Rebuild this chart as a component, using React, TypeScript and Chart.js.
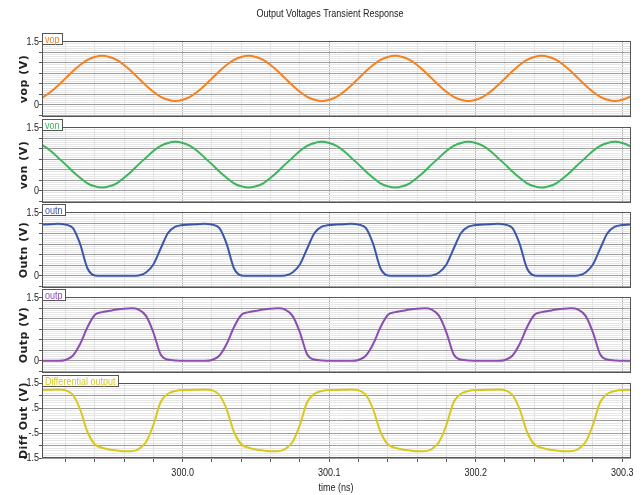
import React, { useEffect, useRef } from "react";
import { Chart, registerables } from "chart.js";
Chart.register(...registerables);

// ---------- data ----------
const TITLE = "Output Voltages Transient Response";
const X_TITLE = "time (ns)";
const TIME_START = 299.9;
const TIME_STEP = 0.005;
const X_MIN = 299.904;
const X_MAX = 300.306;
const X_MINOR_STEP = 0.02;
const X_LABEL_VALUES = [300.0, 300.1, 300.2, 300.3];
const X_LABELS = ["300.0", "300.1", "300.2", "300.3"];

const VOP = [
  0.12, 0.19, 0.31, 0.46, 0.63, 0.8, 0.95, 1.07, 1.14, 1.17, 1.14, 1.07, 0.95, 0.8, 0.63, 0.46, 0.31, 0.19, 0.12, 0.09,
  0.12, 0.19, 0.31, 0.46, 0.63, 0.8, 0.95, 1.07, 1.14, 1.17, 1.14, 1.07, 0.95, 0.8, 0.63, 0.46, 0.31, 0.19, 0.12, 0.09,
  0.12, 0.19, 0.31, 0.46, 0.63, 0.8, 0.95, 1.07, 1.14, 1.17, 1.14, 1.07, 0.95, 0.8, 0.63, 0.46, 0.31, 0.19, 0.12, 0.09,
  0.12, 0.19, 0.31, 0.46, 0.63, 0.8, 0.95, 1.07, 1.14, 1.17, 1.14, 1.07, 0.95, 0.8, 0.63, 0.46, 0.31, 0.19, 0.12, 0.09,
  0.12, 0.19, 0.31,
];
const VON = [
  1.14, 1.07, 0.95, 0.79, 0.63, 0.46, 0.31, 0.18, 0.11, 0.08, 0.11, 0.18, 0.31, 0.46, 0.63, 0.79, 0.95, 1.07, 1.14, 1.17,
  1.14, 1.07, 0.95, 0.79, 0.63, 0.46, 0.31, 0.18, 0.11, 0.08, 0.11, 0.18, 0.31, 0.46, 0.63, 0.79, 0.95, 1.07, 1.14, 1.17,
  1.14, 1.07, 0.95, 0.79, 0.63, 0.46, 0.31, 0.18, 0.11, 0.08, 0.11, 0.18, 0.31, 0.46, 0.63, 0.79, 0.95, 1.07, 1.14, 1.17,
  1.14, 1.07, 0.95, 0.79, 0.63, 0.46, 0.31, 0.18, 0.11, 0.08, 0.11, 0.18, 0.31, 0.46, 0.63, 0.79, 0.95, 1.07, 1.14, 1.17,
  1.14, 1.07, 0.95,
];
const OUTN = [
  1.21, 1.22, 1.23, 1.24, 1.22, 1.14, 0.76, 0.18, 0.01, 0.0, 0.0, 0.0, 0.0, 0.0, 0.01, 0.08, 0.27, 0.65, 1.02, 1.17,
  1.21, 1.22, 1.23, 1.24, 1.22, 1.14, 0.76, 0.18, 0.01, 0.0, 0.0, 0.0, 0.0, 0.0, 0.01, 0.08, 0.27, 0.65, 1.02, 1.17,
  1.21, 1.22, 1.23, 1.24, 1.22, 1.14, 0.76, 0.18, 0.01, 0.0, 0.0, 0.0, 0.0, 0.0, 0.01, 0.08, 0.27, 0.65, 1.02, 1.17,
  1.21, 1.22, 1.23, 1.24, 1.22, 1.14, 0.76, 0.18, 0.01, 0.0, 0.0, 0.0, 0.0, 0.0, 0.01, 0.08, 0.27, 0.65, 1.02, 1.17,
  1.21, 1.22, 1.23,
];
const OUTP = [
  0.0, 0.0, 0.0, 0.0, 0.02, 0.12, 0.4, 0.8, 1.09, 1.16, 1.19, 1.22, 1.24, 1.25, 1.22, 1.07, 0.68, 0.15, 0.03, 0.01,
  0.0, 0.0, 0.0, 0.0, 0.02, 0.12, 0.4, 0.8, 1.09, 1.16, 1.19, 1.22, 1.24, 1.25, 1.22, 1.07, 0.68, 0.15, 0.03, 0.01,
  0.0, 0.0, 0.0, 0.0, 0.02, 0.12, 0.4, 0.8, 1.09, 1.16, 1.19, 1.22, 1.24, 1.25, 1.22, 1.07, 0.68, 0.15, 0.03, 0.01,
  0.0, 0.0, 0.0, 0.0, 0.02, 0.12, 0.4, 0.8, 1.09, 1.16, 1.19, 1.22, 1.24, 1.25, 1.22, 1.07, 0.68, 0.15, 0.03, 0.01,
  0.0, 0.0, 0.0,
];
const DIFF = [
  1.22, 1.22, 1.23, 1.24, 1.21, 1.03, 0.45, -0.45, -0.95, -1.09, -1.16, -1.2, -1.23, -1.23, -1.14, -0.86, -0.18, 0.74, 1.07, 1.18,
  1.22, 1.22, 1.23, 1.24, 1.21, 1.03, 0.45, -0.45, -0.95, -1.09, -1.16, -1.2, -1.23, -1.23, -1.14, -0.86, -0.18, 0.74, 1.07, 1.18,
  1.22, 1.22, 1.23, 1.24, 1.21, 1.03, 0.45, -0.45, -0.95, -1.09, -1.16, -1.2, -1.23, -1.23, -1.14, -0.86, -0.18, 0.74, 1.07, 1.18,
  1.22, 1.22, 1.23, 1.24, 1.21, 1.03, 0.45, -0.45, -0.95, -1.09, -1.16, -1.2, -1.23, -1.23, -1.14, -0.86, -0.18, 0.74, 1.07, 1.18,
  1.22, 1.22, 1.23,
];

const SERIES = [VOP, VON, OUTN, OUTP, DIFF];
const SERIES_NAMES = ["vop", "von", "outn", "outp", "Differential output"];
const Y_TITLES = ["vop (V)", "von (V)", "Outn (V)", "Outp (V)", "Diff Out (V)"];
const SERIES_COLORS = ["#f5821f", "#3bb55c", "#3c56a8", "#8b4db0", "#d8c81e"];

const Y_TICK_VALUES_V = [0, 1.5];
const Y_TICK_LABELS_V = ["0", "1.5"];
const Y_TICK_VALUES_DIFF = [-1.5, -0.5, 0.5, 1.5];
const Y_TICK_LABELS_DIFF = ["-1.5", "-.5", ".5", "1.5"];

// ---------- layout / style ----------
const W = 643;
const H = 495;
const PANEL_TOPS = [41, 127, 212, 297, 383];
const PANEL_BOTTOMS = [117, 203, 288, 373, 458];
const PLOT_LEFT = 42;
const PLOT_RIGHT = 631;
const TEXT_FONT = "11px 'Liberation Sans', Arial, sans-serif";
const NARROW_SCALE = 0.82;
const BOLD_FONT = "bold 11px 'DejaVu Sans', Verdana, sans-serif";
const FRAME = "#555555";
const TEXT = "#222222";

const near = (a: number, b: number) => Math.abs(a - b) < 1e-6;
const isMultiple = (v: number, step: number) => near(v / step, Math.round(v / step));

function makeTicks(min: number, max: number, step: number) {
  const out: { value: number }[] = [];
  const n0 = Math.ceil(min / step - 1e-9);
  const n1 = Math.floor(max / step + 1e-9);
  for (let n = n0; n <= n1; n++) out.push({ value: parseFloat((n * step).toFixed(6)) });
  return out;
}

function narrowText(
  ctx: CanvasRenderingContext2D,
  text: string,
  x: number,
  y: number,
  align: CanvasTextAlign,
  color: string
) {
  ctx.save();
  ctx.font = TEXT_FONT;
  ctx.fillStyle = color;
  ctx.textAlign = align;
  ctx.textBaseline = "middle";
  ctx.translate(x, y);
  ctx.scale(NARROW_SCALE, 1);
  ctx.fillText(text, 0, 0);
  ctx.restore();
}

function Panel({ idx }: { idx: number }) {
  const ref = useRef<HTMLCanvasElement | null>(null);
  const isLast = idx === 4;
  const top = PANEL_TOPS[idx];
  const bottom = PANEL_BOTTOMS[idx];
  const canvasTop = idx === 0 ? 0 : top - 11;
  const padBottom = isLast ? 0 : 8;
  const canvasBottom = isLast ? H : bottom + padBottom;
  const ch = canvasBottom - canvasTop;

  useEffect(() => {
    const yMin = isLast ? -1.5 : -0.29;
    const yMax = isLast ? 1.5 : 1.52;
    const yMajor = isLast ? 0.5 : 0.25;
    const yMinor = isLast ? 0.1 : 0.05;
    const tickVals = isLast ? Y_TICK_VALUES_DIFF : Y_TICK_VALUES_V;
    const tickLabels = isLast ? Y_TICK_LABELS_DIFF : Y_TICK_LABELS_V;
    const series = SERIES[idx];
    const points = series.map((v, i) => ({ x: TIME_START + TIME_STEP * i, y: v }));
    const color = SERIES_COLORS[idx];

    const decor = {
      id: "decor" + idx,
      afterDraw(chart: any) {
        const ctx = chart.ctx as CanvasRenderingContext2D;
        const ca = chart.chartArea;
        const ys = chart.scales.y;
        const xs = chart.scales.x;
        ctx.save();
        // frame
        ctx.strokeStyle = FRAME;
        ctx.lineWidth = 1;
        ctx.strokeRect(ca.left + 0.5, ca.top + 0.5, ca.right - ca.left - 1, ca.bottom - ca.top - 1);
        // y tick labels
        tickVals.forEach((v, k) => {
          narrowText(ctx, tickLabels[k], PLOT_LEFT - 3, ys.getPixelForValue(v), "right", TEXT);
        });
        // x tick labels
        if (isLast) {
          X_LABEL_VALUES.forEach((v, k) => {
            narrowText(ctx, X_LABELS[k], xs.getPixelForValue(v), 473 - canvasTop, "center", TEXT);
          });
          narrowText(ctx, X_TITLE, 336, 488 - canvasTop, "center", TEXT);
        }
        // legend label box
        ctx.font = TEXT_FONT;
        const name = SERIES_NAMES[idx];
        const tw = ctx.measureText(name).width * NARROW_SCALE;
        const bx = ca.left + 0.5;
        const by = ca.top - 7.5;
        const bw = Math.round(tw + 5);
        const bh = 11;
        ctx.fillStyle = "#ffffff";
        ctx.fillRect(bx, by, bw, bh);
        ctx.strokeStyle = FRAME;
        ctx.strokeRect(bx, by, bw, bh);
        narrowText(ctx, name, bx + 2.5, by + bh / 2 + 0.5, "left", color);
        // y title
        ctx.save();
        ctx.font = BOLD_FONT;
        (ctx as any).letterSpacing = "0.5px";
        ctx.fillStyle = TEXT;
        ctx.textAlign = "center";
        ctx.textBaseline = "alphabetic";
        ctx.translate(27, (ca.top + ca.bottom) / 2);
        ctx.rotate(-Math.PI / 2);
        ctx.fillText(Y_TITLES[idx], 0, 0);
        ctx.restore();
        // chart title
        if (idx === 0) narrowText(ctx, TITLE, 330, 14, "center", TEXT);
        ctx.restore();
      },
    };

    const chart = new Chart(ref.current as HTMLCanvasElement, {
      type: "line",
      data: {
        datasets: [
          {
            label: SERIES_NAMES[idx],
            data: points,
            borderColor: color,
            backgroundColor: color,
            borderWidth: 2,
            pointRadius: 0,
            cubicInterpolationMode: "monotone",
            fill: false,
          },
        ],
      },
      options: {
        responsive: false,
        animation: false,
        devicePixelRatio: 1,
        events: [],
        layout: { padding: { top: top - canvasTop, right: W - PLOT_RIGHT, bottom: padBottom, left: 0 } },
        plugins: { legend: { display: false }, tooltip: { enabled: false }, title: { display: false } },
        scales: {
          x: {
            type: "linear",
            min: X_MIN,
            max: X_MAX,
            afterBuildTicks: (s: any) => {
              s.ticks = makeTicks(X_MIN, X_MAX, X_MINOR_STEP);
            },
            afterFit: (s: any) => {
              s.height = isLast ? H - PANEL_BOTTOMS[4] : 0;
            },
            border: { display: false },
            grid: {
              drawTicks: isLast,
              tickLength: 4,
              tickColor: FRAME,
              color: (c: any) => (c.tick && isMultiple(c.tick.value, 0.1) ? "#b4b4b4" : "#e0e0e0"),
              lineWidth: 1,
            },
            ticks: { display: false, autoSkip: false, maxRotation: 0 },
          },
          y: {
            type: "linear",
            min: yMin,
            max: yMax,
            afterBuildTicks: (s: any) => {
              s.ticks = makeTicks(yMin, yMax, yMinor);
            },
            afterFit: (s: any) => {
              s.width = PLOT_LEFT;
            },
            border: { display: false },
            grid: {
              drawTicks: true,
              tickLength: 3,
              tickColor: (c: any) => (c.tick && isMultiple(c.tick.value, yMajor) ? FRAME : "rgba(0,0,0,0)"),
              color: (c: any) => (c.tick && isMultiple(c.tick.value, yMajor) ? "#9c9c9c" : "#e6e6e6"),
              lineWidth: 1,
            },
            ticks: { display: false, autoSkip: false },
          },
        },
      },
      plugins: [decor],
    } as any);
    return () => chart.destroy();
  }, []);

  return (
    <canvas
      ref={ref}
      width={W}
      height={ch}
      style={{ position: "absolute", left: 0, top: canvasTop, width: W, height: ch, display: "block" }}
    />
  );
}

export default function App() {
  return (
    <div style={{ position: "absolute", left: 0, top: 0, width: W, height: H, background: "#ffffff", overflow: "hidden" }}>
      {[0, 1, 2, 3, 4].map((i) => (
        <Panel key={i} idx={i} />
      ))}
    </div>
  );
}
